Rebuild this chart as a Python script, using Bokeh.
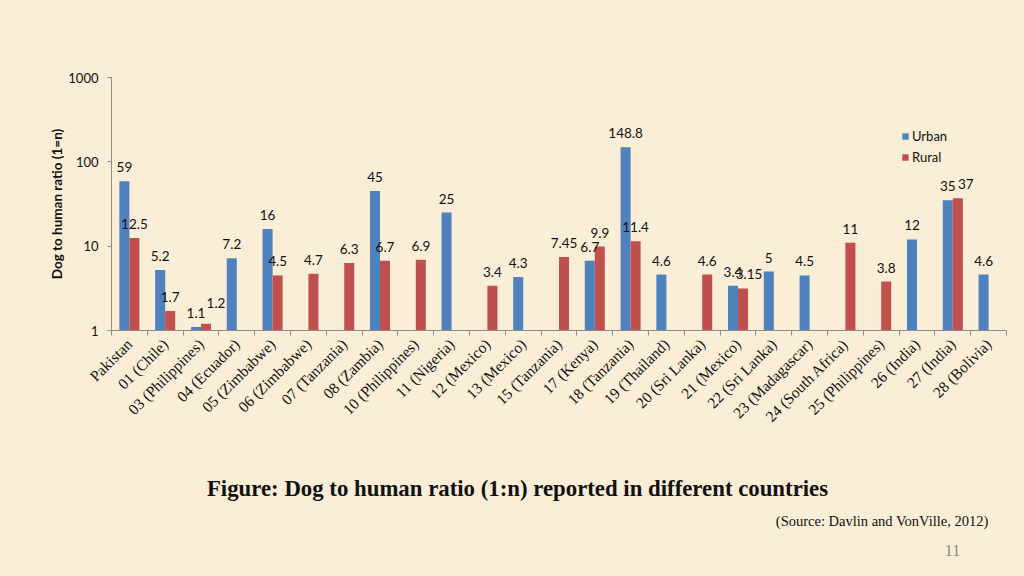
import math
from bokeh.plotting import figure
from bokeh.layouts import column
from bokeh.models import (ColumnDataSource, FixedTicker, Legend, LegendItem)
from bokeh.core.properties import value
from bokeh.embed import file_html
from bokeh.resources import INLINE

categories = ["Pakistan", "01 (Chile)", "03 (Philippines)", "04 (Ecuador)", "05 (Zimbabwe)",
              "06 (Zimbabwe)", "07 (Tanzania)", "08 (Zambia)", "10 (Philippines)", "11 (Nigeria)",
              "12 (Mexico)", "13 (Mexico)", "15 (Tanzania)", "17 (Kenya)", "18 (Tanzania)",
              "19 (Thailand)", "20 (Sri Lanka)", "21 (Mexico)", "22 (Sri Lanka)", "23 (Madagascar)",
              "24 (South Africa)", "25 (Philippines)", "26 (India)", "27 (India)", "28 (Bolivia)"]
urban = [59, 5.2, 1.1, 7.2, 16, None, None, 45, None, 25, None, 4.3, None, 6.7, 148.8,
         4.6, None, 3.4, 5, 4.5, None, None, 12, 35, 4.6]
rural = [12.5, 1.7, 1.2, None, 4.5, 4.7, 6.3, 6.7, 6.9, None, 3.4, None, 7.45, 9.9, 11.4,
         None, 4.6, 3.15, None, None, 11, 3.8, None, 37, None]
urban_labels = ["59", "5.2", "1.1", "7.2", "16", "", "", "45", "", "25", "", "4.3", "", "6.7", "148.8",
                "4.6", "", "3.4", "5", "4.5", "", "", "12", "35", "4.6"]
rural_labels = ["12.5", "1.7", "1.2", "", "4.5", "4.7", "6.3", "6.7", "6.9", "", "3.4", "", "7.45", "9.9", "11.4",
                "", "4.6", "3.15", "", "", "11", "3.8", "", "37", ""]
y_ticks = [1, 10, 100, 1000]
caption_title = "Figure: Dog to human ratio (1:n) reported in different countries"
caption_source = "(Source: Davlin and VonVille, 2012)"
page_number = "11"

# styling: pixel nudges of a few rural data labels (to avoid overlaps, as in the original)
rural_label_nudge = {2: (10, -7), 17: (6, 0), 23: (8, 0)}

BG = "#faeed6"
BLUE = "#4f81bd"
RED = "#c0504d"
SANS = "Lato"
SERIF = "Liberation Serif"

W = 1008
H1 = 455
H2 = 560 - H1
BORDER_L, BORDER_R = 103, 10

n = len(categories)
centers = [i + 0.5 for i in range(n)]
bw = 0.28

def src(vals, labs, off, nudge):
    xs, ys, ts, dx, dy = [], [], [], [], []
    for i, (v, t) in enumerate(zip(vals, labs)):
        if v is not None:
            xs.append(centers[i] + off)
            ys.append(v)
            ts.append(t)
            nx, ny = nudge.get(i, (0, 0))
            dx.append(nx)
            dy.append(-9 + ny)
    return ColumnDataSource(dict(x=xs, top=ys, text=ts, dx=dx, dy=dy))

su = src(urban, urban_labels, -bw / 2, {})
sr = src(rural, rural_labels, bw / 2, rural_label_nudge)

p = figure(width=W, height=H1, output_backend="svg", toolbar_location=None,
           x_range=(0, n), y_range=(1, 1000), y_axis_type="log",
           background_fill_color=BG, border_fill_color=BG,
           min_border_left=BORDER_L, min_border_right=BORDER_R, min_border_top=69,
           min_border_bottom=H1 - 322)
p.outline_line_color = None
p.grid.visible = False

ru = p.vbar(x="x", top="top", bottom=1, width=bw, source=su, fill_color=BLUE, line_color=None)
rr = p.vbar(x="x", top="top", bottom=1, width=bw, source=sr, fill_color=RED, line_color=None)

for s in (su, sr):
    p.text(x="x", y="top", text="text", source=s, text_align="center", text_baseline="bottom",
           x_offset="dx", y_offset="dy", text_font=value(SANS), text_font_size="13.5px",
           text_color="#111111")

# x axis
xa = p.xaxis[0]
xa.ticker = FixedTicker(ticks=centers, minor_ticks=list(range(n + 1)))
xa.major_label_overrides = {c: lab for c, lab in zip(centers, categories)}
xa.major_tick_out = 0
xa.major_tick_in = 0
xa.minor_tick_out = 5
xa.minor_tick_in = 0
xa.minor_tick_line_color = "#8c8c8c"
xa.axis_line_color = "#8c8c8c"
xa.major_label_orientation = math.pi / 4
xa.major_label_text_font = SERIF
xa.major_label_text_font_size = "15.5px"
xa.major_label_text_color = "#111111"
xa.major_label_standoff = 6

# y axis
ya = p.yaxis[0]
ya.ticker = FixedTicker(ticks=y_ticks, minor_ticks=[])
ya.major_label_overrides = {t: str(t) for t in y_ticks}
ya.major_tick_out = 4
ya.major_tick_in = 0
ya.minor_tick_out = 0
ya.minor_tick_in = 0
ya.axis_line_color = "#8c8c8c"
ya.major_tick_line_color = "#8c8c8c"
ya.major_label_text_font = SANS
ya.major_label_text_font_size = "13px"
ya.major_label_text_color = "#111111"
ya.major_label_standoff = 9
ya.axis_label = "Dog to human ratio (1=n)"
ya.axis_label_text_font = SANS
ya.axis_label_text_font_size = "13.5px"
ya.axis_label_text_font_style = "bold"
ya.axis_label_text_color = "#111111"
ya.axis_label_standoff = 0

legend = Legend(items=[LegendItem(label="Urban", renderers=[ru]),
                       LegendItem(label="Rural", renderers=[rr])],
                location=(790, 165), background_fill_alpha=0, border_line_color=None,
                label_text_font=SANS, label_text_font_size="13px", label_text_color="#111111",
                glyph_width=8, glyph_height=8, label_height=14, spacing=5, padding=4,
                label_standoff=3)
p.add_layout(legend)

# caption strip below the chart; its frame lines up with the chart's frame.
# x in page pixels (frame spans 8+BORDER_L .. 8+W-BORDER_R), y in pixels from strip top
p2 = figure(width=W, height=H2, output_backend="svg", toolbar_location=None,
            x_range=(8 + BORDER_L, 8 + W - BORDER_R), y_range=(H2, 0),
            x_axis_location=None, y_axis_location=None,
            background_fill_color=BG, border_fill_color=BG,
            min_border_left=BORDER_L, min_border_right=BORDER_R, min_border_top=0, min_border_bottom=0)
p2.outline_line_color = None
p2.grid.visible = False
p2.text(x=[517], y=[25], text=[caption_title], text_align="center", text_baseline="middle",
        text_font=value(SERIF), text_font_size="22.8px", text_font_style="bold", text_color="#111111")
p2.text(x=[988], y=[57], text=[caption_source], text_align="right", text_baseline="middle",
        text_font=value(SERIF), text_font_size="14.5px", text_color="#111111")
p2.text(x=[952], y=[87], text=[page_number], text_align="center", text_baseline="middle",
        text_font=value(SERIF), text_font_size="16px", text_color="#8a8a80")

layout = column(p, p2, spacing=0)

html = file_html(layout, INLINE)
html = html.replace("</head>", "<style>html,body{background:%s;margin:0;padding:0}body{margin:8px}</style></head>" % BG)
open("out.html", "w").write(html)
